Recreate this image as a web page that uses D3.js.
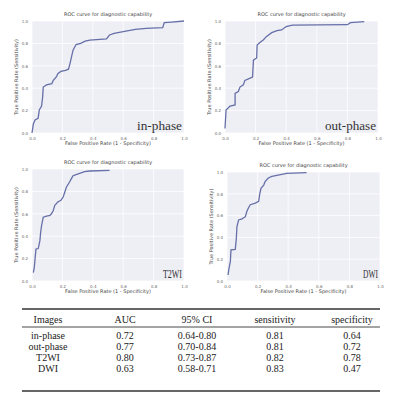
<!DOCTYPE html>
<html>
<head>
<meta charset="utf-8">
<script src="https://cdn.jsdelivr.net/npm/d3@7"></script>
<style>
  body { margin: 0; background: #fff; }
  svg { display: block; }
</style>
</head>
<body>
<svg id="chart" width="400" height="400"></svg>
<script>
// ROC points: [false positive rate, true positive rate]
var inPhase = [[0,0],[0.009,0.08],[0.02,0.116],[0.04,0.13],[0.048,0.205],[0.063,0.24],[0.07,0.32],[0.074,0.41],
  [0.096,0.43],[0.13,0.44],[0.14,0.47],[0.16,0.50],[0.17,0.53],[0.19,0.55],[0.22,0.56],[0.24,0.57],[0.25,0.62],
  [0.26,0.68],[0.27,0.74],[0.29,0.79],[0.32,0.80],[0.35,0.82],[0.38,0.83],[0.49,0.84],[0.51,0.875],[0.54,0.89],
  [0.60,0.905],[0.68,0.925],[0.75,0.935],[0.86,0.94],[0.87,0.985],[0.92,0.99],[1,1]];
var outPhase = [[0,0.04],[0.007,0.205],[0.033,0.24],[0.066,0.25],[0.066,0.354],[0.087,0.37],[0.098,0.41],[0.12,0.43],
  [0.13,0.47],[0.164,0.49],[0.18,0.50],[0.186,0.65],[0.207,0.67],[0.21,0.786],[0.23,0.81],[0.25,0.83],[0.27,0.86],
  [0.305,0.896],[0.34,0.914],[0.37,0.92],[0.40,0.95],[0.44,0.964],[0.80,0.967],[0.82,0.985],[0.91,0.994]];
var t2wi = [[0.009,0.075],[0.015,0.12],[0.02,0.195],[0.026,0.285],[0.041,0.29],[0.052,0.36],[0.057,0.435],[0.063,0.495],
  [0.074,0.57],[0.096,0.58],[0.118,0.585],[0.128,0.60],[0.14,0.63],[0.15,0.675],[0.17,0.705],[0.19,0.72],[0.205,0.75],
  [0.216,0.795],[0.227,0.84],[0.248,0.886],[0.26,0.916],[0.27,0.94],[0.29,0.95],[0.346,0.976],[0.38,0.982],[0.51,0.988]];
var dwi = [[0.007,0.055],[0.011,0.10],[0.022,0.18],[0.026,0.285],[0.054,0.29],[0.061,0.39],[0.065,0.50],[0.076,0.56],
  [0.098,0.57],[0.12,0.59],[0.13,0.64],[0.14,0.67],[0.152,0.70],[0.185,0.715],[0.207,0.73],[0.213,0.79],[0.222,0.85],
  [0.24,0.88],[0.25,0.914],[0.27,0.945],[0.293,0.96],[0.326,0.97],[0.39,0.988],[0.52,0.994]];

var panelLabels = ["in-phase", "out-phase", "T2WI", "DWI"];
var panelTitle = "ROC curve for diagnostic capability";
var xAxisTitle = "False Positive Rate (1 - Specificity)";
var yAxisTitle = "True Positive Rate (Sensitivity)";
var tickValues = [0, 0.2, 0.4, 0.6, 0.8, 1.0];

// table
var tableHeaders = ["Images", "AUC", "95% CI", "sensitivity", "specificity"];
var tableImages = ["in-phase", "out-phase", "T2WI", "DWI"];
var aucValues = ["0.72", "0.77", "0.80", "0.63"];
var ciValues = ["0.64-0.80", "0.70-0.84", "0.73-0.87", "0.58-0.71"];
var sensValues = ["0.81", "0.81", "0.82", "0.83"];
var specValues = ["0.64", "0.72", "0.78", "0.47"];

var svg = d3.select("#chart");

// panel boxes [left, top, right, bottom]
var boxes = [[32, 21, 184, 133], [225, 21, 378, 133], [32, 169, 184, 281], [227, 172, 380, 281]];
var series = [inPhase, outPhase, t2wi, dwi];
var labelWidths = [45, 51, 19, 15];

series.forEach(function(pts, i){
  var b = boxes[i];
  var x = d3.scaleLinear().domain([0, 1]).range([b[0], b[2]]);
  var y = d3.scaleLinear().domain([0, 1]).range([b[3], b[1]]);
  var g = svg.append("g");

  g.append("rect")
    .attr("x", b[0]).attr("y", b[1])
    .attr("width", b[2] - b[0]).attr("height", b[3] - b[1])
    .attr("fill", "#eeeef5");

  // grid
  g.selectAll(".vg").data(tickValues).enter().append("line")
    .attr("x1", function(d){ return x(d); }).attr("x2", function(d){ return x(d); })
    .attr("y1", b[1]).attr("y2", b[3])
    .attr("stroke", "#fff").attr("stroke-width", 0.8);
  g.selectAll(".hg").data(tickValues).enter().append("line")
    .attr("y1", function(d){ return y(d); }).attr("y2", function(d){ return y(d); })
    .attr("x1", b[0]).attr("x2", b[2])
    .attr("stroke", "#fff").attr("stroke-width", 0.8);

  var xa = g.append("g").attr("transform", "translate(0," + b[3] + ")")
    .call(d3.axisBottom(x).tickValues(tickValues).tickSize(0).tickPadding(4).tickFormat(d3.format(".1f")));
  var ya = g.append("g").attr("transform", "translate(" + b[0] + ",0)")
    .call(d3.axisLeft(y).tickValues(tickValues).tickSize(0).tickPadding(4).tickFormat(d3.format(".1f")));
  [xa, ya].forEach(function(a){
    a.select(".domain").remove();
    a.selectAll("text").attr("font-size", 4).attr("fill", "#666").attr("font-family", "DejaVu Sans");
  });

  g.append("text")
    .attr("x", (b[0] + b[2]) / 2).attr("y", b[1] - 5)
    .attr("text-anchor", "middle").attr("font-size", 5).attr("fill", "#444")
    .attr("font-family", "DejaVu Sans")
    .text(panelTitle);

  g.append("text")
    .attr("x", (b[0] + b[2]) / 2).attr("y", b[3] + 12)
    .attr("text-anchor", "middle").attr("font-size", 5).attr("fill", "#444")
    .attr("font-family", "DejaVu Sans")
    .text(xAxisTitle);

  g.append("text")
    .attr("transform", "translate(" + (b[0] - 14) + "," + ((b[1] + b[3]) / 2) + ") rotate(-90)")
    .attr("text-anchor", "middle").attr("font-size", 5).attr("fill", "#444")
    .attr("font-family", "DejaVu Sans")
    .text(yAxisTitle);

  var line = d3.line()
    .x(function(d){ return x(d[0]); })
    .y(function(d){ return y(d[1]); });
  g.append("path")
    .datum(pts)
    .attr("d", line)
    .attr("fill", "none")
    .attr("stroke", "#6670a8")
    .attr("stroke-width", 1.3);

  g.append("text")
    .attr("x", b[2] - 2).attr("y", b[3] - 3)
    .attr("text-anchor", "end")
    .attr("font-family", "Liberation Serif").attr("font-size", 13)
    .attr("fill", "#333")
    .attr("textLength", labelWidths[i]).attr("lengthAdjust", "spacingAndGlyphs")
    .text(panelLabels[i]);
});

// table
var colX = [48, 125, 197, 275, 352];
var rowY = d3.scalePoint().domain(d3.range(tableImages.length)).range([339, 372]);
var tbl = svg.append("g").attr("font-family", "Liberation Serif").attr("font-size", 10).attr("fill", "#222");

tbl.append("line").attr("x1", 22).attr("x2", 380).attr("y1", 309).attr("y2", 309)
  .attr("stroke", "#333").attr("stroke-width", 1.3);
tbl.append("line").attr("x1", 22).attr("x2", 380).attr("y1", 327).attr("y2", 327)
  .attr("stroke", "#333").attr("stroke-width", 0.9);
tbl.append("line").attr("x1", 22).attr("x2", 380).attr("y1", 391).attr("y2", 391)
  .attr("stroke", "#333").attr("stroke-width", 1.3);

tbl.selectAll(".hdr").data(tableHeaders).enter().append("text")
  .attr("x", function(d, i){ return colX[i]; })
  .attr("y", 323)
  .attr("text-anchor", "middle")
  .text(function(d){ return d; });

var cols = [tableImages, aucValues, ciValues, sensValues, specValues];
cols.forEach(function(col, ci){
  tbl.selectAll(".c" + ci).data(col).enter().append("text")
    .attr("x", colX[ci])
    .attr("y", function(d, ri){ return rowY(ri); })
    .attr("text-anchor", "middle")
    .text(function(d){ return d; });
});
</script>
</body>
</html>
